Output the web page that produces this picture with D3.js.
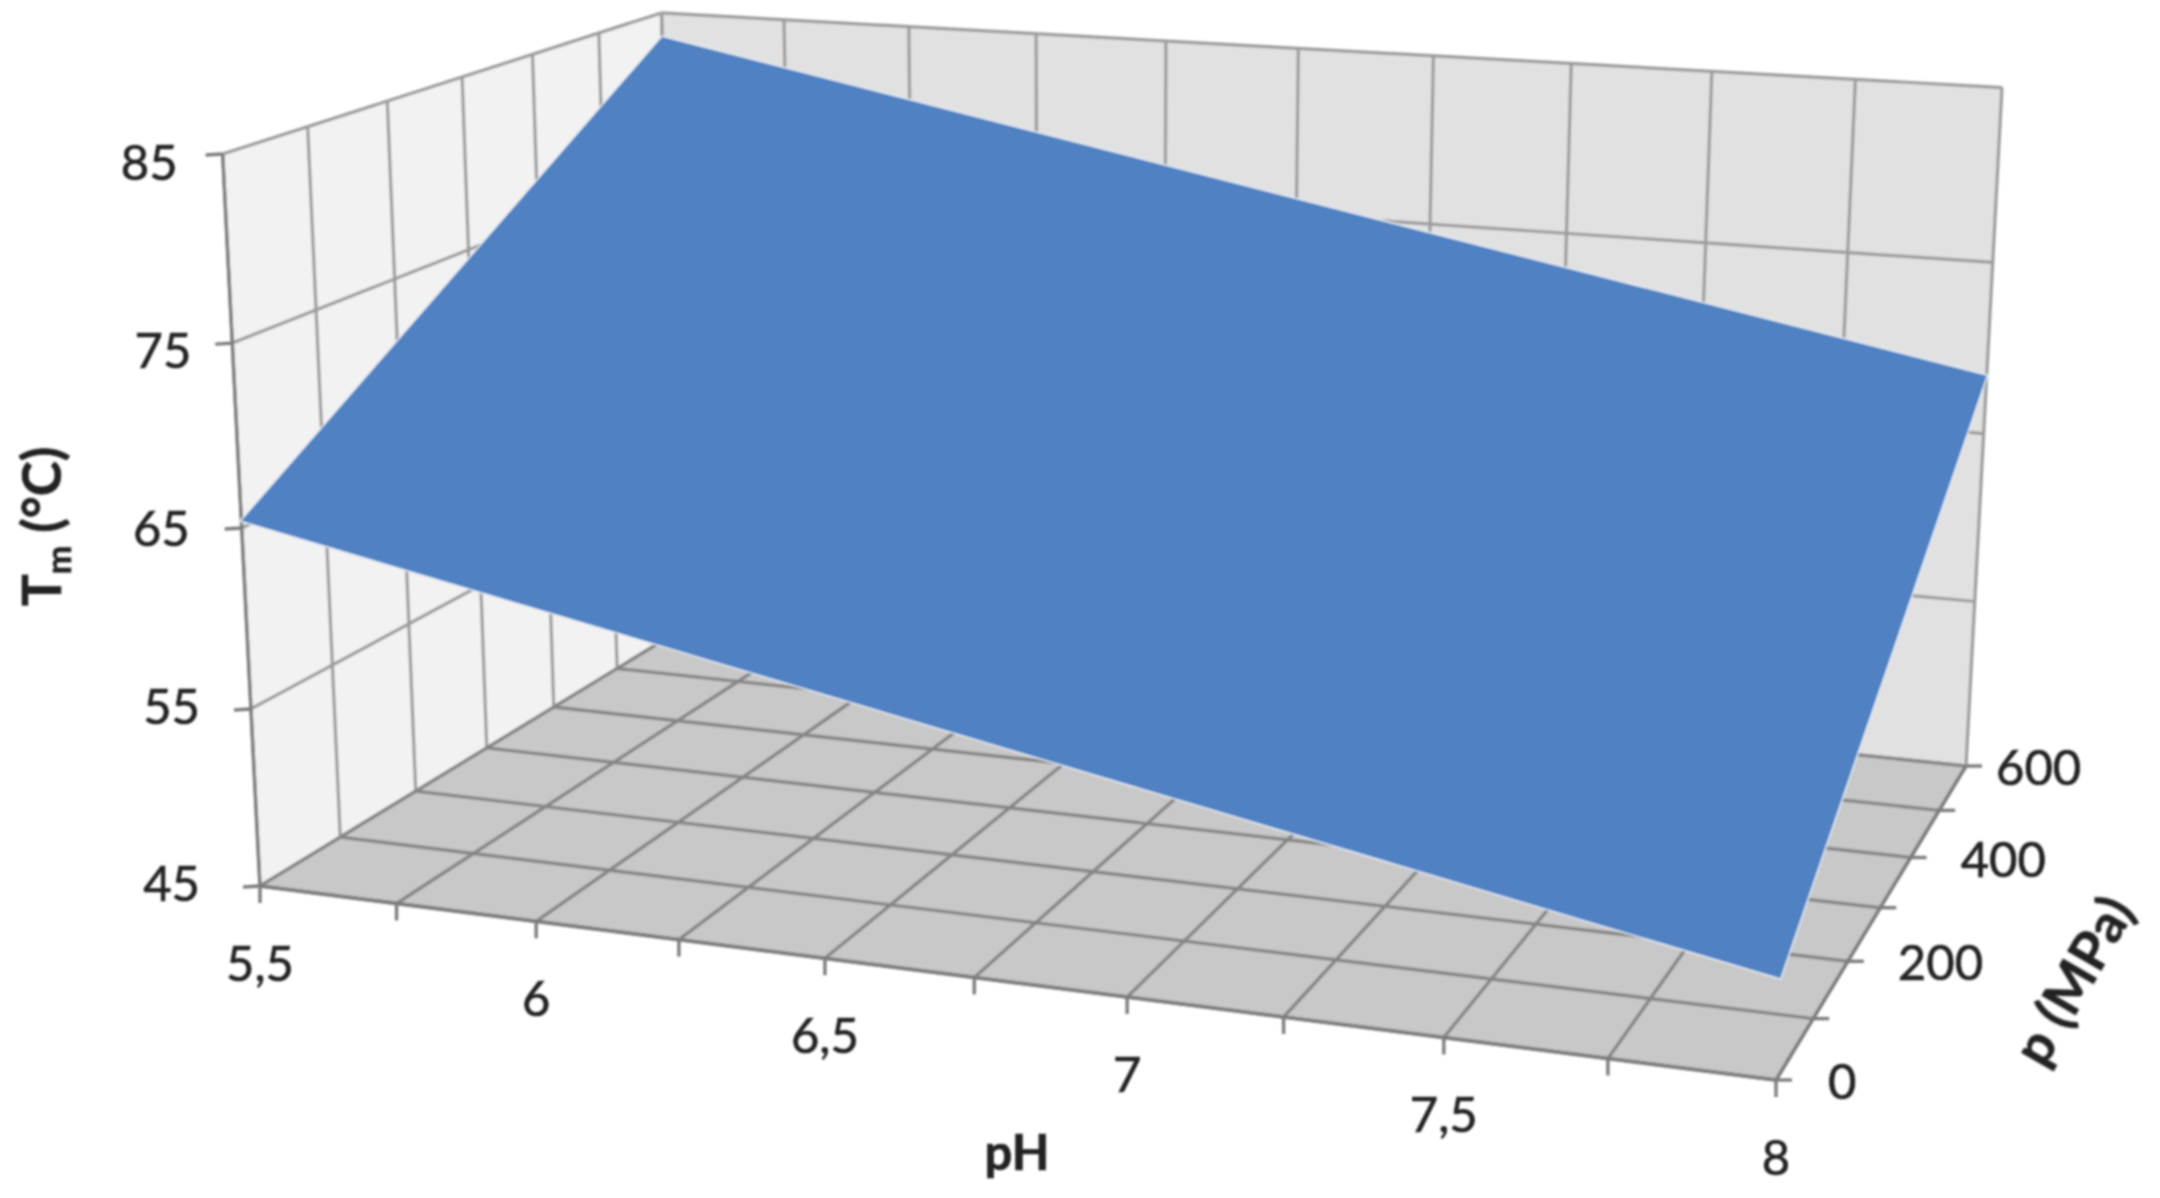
<!DOCTYPE html>
<html lang="en">
	<head>
		<meta charset="utf-8">
		<title>Tm surface over pH and pressure</title>
		<script src="https://d3js.org/d3.v7.min.js"></script>
		<style type="text/css">
			body { margin: 0; background: #fff; }
			text { font-family: Lato, sans-serif; fill: #222; stroke: #222; stroke-width: 0.6px; }
		</style>
	</head>
	<body>
		<script type="text/javascript">
			// Values
			var pHTicks = [5.5, 5.75, 6, 6.25, 6.5, 6.75, 7, 7.25, 7.5, 7.75, 8];
			var pHLabels = ["5,5", "6", "6,5", "7", "7,5", "8"];
			var pressureTicks = [0, 100, 200, 300, 400, 500, 600];
			var pressureLabels = ["0", "200", "400", "600"];
			var tmTicks = [45, 55, 65, 75, 85];

			// Fitted plane: the surface corners
			var surfacePH = [5.5, 8];
			var surfacePressure = [0, 600];
			var tmAtLowPressure = [65.4, 50.2];
			var tmAtHighPressure = [83.5, 68.4];

			var w = 2160;
			var h = 1198;

			var svg = d3.select("body").append("svg").attr("width", w).attr("height", h);
			svg.append("defs").append("filter").attr("id", "soft")
				.attr("filterUnits", "userSpaceOnUse").attr("x", 0).attr("y", 0).attr("width", w).attr("height", h)
				.append("feGaussianBlur").attr("stdDeviation", 1);
			var chart = svg.append("g").attr("filter", "url(#soft)");

			//Create scale functions
			var xScale = d3.scaleLinear().domain([5.5, 8]).range([0, 1]);
			var yScale = d3.scaleLinear().domain([0, 600]).range([0, 1]);
			var zScale = d3.scaleLinear().domain([45, 85]).range([0, 1]);

			// Perspective frame, from where the corners sit on screen
			var floorFrontLeft = [260, 886];
			var floorFrontRight = [1776, 1080];
			var floorBackRight = [1966, 766];
			var floorBackLeft = [677, 632];
			var topFrontLeft = [222.7, 154];
			var verticalVanish = [1093, 17229];

			var H = (function() {
				var x0 = floorFrontLeft[0], y0 = floorFrontLeft[1];
				var x1 = floorFrontRight[0], y1 = floorFrontRight[1];
				var x2 = floorBackRight[0], y2 = floorBackRight[1];
				var x3 = floorBackLeft[0], y3 = floorBackLeft[1];
				var dx1 = x1 - x2, dx2 = x3 - x2, sx = x0 - x1 + x2 - x3;
				var dy1 = y1 - y2, dy2 = y3 - y2, sy = y0 - y1 + y2 - y3;
				var det = dx1 * dy2 - dx2 * dy1;
				var g = (sx * dy2 - dx2 * sy) / det;
				var k = (dx1 * sy - sx * dy1) / det;
				return {
					a: x1 - x0 + g * x1, b: x3 - x0 + k * x3, c: x0,
					d: y1 - y0 + g * y1, e: y3 - y0 + k * y3, f: y0,
					g: g, k: k
				};
			})();
			var lift = (topFrontLeft[1] - floorFrontLeft[1]) / (verticalVanish[1] - topFrontLeft[1]);

			function project(pH, p, tm) {
				var u = xScale(pH), v = yScale(p), t = zScale(tm) * lift;
				var d = H.g * u + H.k * v + 1 + t;
				return [
					(H.a * u + H.b * v + H.c + t * verticalVanish[0]) / d,
					(H.d * u + H.e * v + H.f + t * verticalVanish[1]) / d
				];
			}

			var openLine = d3.line();
			var ringLine = d3.line().curve(d3.curveLinearClosed);

			function polygon(pts, fill) {
				chart.append("path").attr("d", ringLine(pts)).attr("fill", fill);
			}
			function strokeLine(pts, color, width) {
				chart.append("path").attr("d", openLine(pts)).attr("fill", "none")
					.attr("stroke", color).attr("stroke-width", width);
			}

			var pLo = 0, pHi = 600, xLo = 5.5, xHi = 8, tLo = 45, tHi = 85;

			// Walls and floor
			polygon([project(xLo, pLo, tLo), project(xLo, pHi, tLo), project(xLo, pHi, tHi), project(xLo, pLo, tHi)], "#f2f2f2");
			polygon([project(xLo, pHi, tLo), project(xHi, pHi, tLo), project(xHi, pHi, tHi), project(xLo, pHi, tHi)], "#e1e1e1");
			polygon([project(xLo, pLo, tLo), project(xHi, pLo, tLo), project(xHi, pHi, tLo), project(xLo, pHi, tLo)], "#c8c8c8");

			var wallLine = "#9c9c9c", floorLine = "#858585", axisLine = "#7d7d7d";

			tmTicks.forEach(function(t) {
				strokeLine([project(xLo, pLo, t), project(xLo, pHi, t)], wallLine, 3.2);
				strokeLine([project(xLo, pHi, t), project(xHi, pHi, t)], wallLine, 3.2);
			});
			pressureTicks.forEach(function(p) {
				strokeLine([project(xLo, p, tLo), project(xLo, p, tHi)], wallLine, 3.2);
				strokeLine([project(xLo, p, tLo), project(xHi, p, tLo)], floorLine, 3.4);
			});
			pHTicks.forEach(function(x) {
				strokeLine([project(x, pHi, tLo), project(x, pHi, tHi)], wallLine, 3.2);
				strokeLine([project(x, pLo, tLo), project(x, pHi, tLo)], floorLine, 3.4);
			});

			// Axis lines with tick marks
			strokeLine([project(xLo, pLo, tLo), project(xLo, pLo, tHi)], axisLine, 3.4);
			strokeLine([project(xLo, pLo, tLo), project(xHi, pLo, tLo)], axisLine, 3.6);
			strokeLine([project(xHi, pLo, tLo), project(xHi, pHi, tLo)], axisLine, 3.4);

			tmTicks.forEach(function(t) {
				var a = project(xLo, pLo, t);
				strokeLine([a, [a[0] - 17, a[1] + 1]], axisLine, 3.4);
			});
			pHTicks.forEach(function(x) {
				var a = project(x, pLo, tLo);
				strokeLine([a, [a[0], a[1] + 17]], axisLine, 3.4);
			});
			pressureTicks.forEach(function(p) {
				var a = project(xHi, p, tLo);
				strokeLine([a, [a[0] + 16, a[1]]], axisLine, 3.4);
			});

			// Surface, with the pale fringe it has in the picture
			var surface = [
				project(surfacePH[0], surfacePressure[0], tmAtLowPressure[0]),
				project(surfacePH[1], surfacePressure[0], tmAtLowPressure[1]),
				project(surfacePH[1], surfacePressure[1], tmAtHighPressure[1]),
				project(surfacePH[0], surfacePressure[1], tmAtHighPressure[0])
			];
			chart.append("path").attr("d", ringLine(surface)).attr("fill", "#4f81c3")
				.attr("stroke", "#e3ebf3").attr("stroke-width", 3).attr("stroke-linejoin", "round");
			chart.append("path").attr("d", ringLine(surface)).attr("fill", "#4f81c3");

			// Tick labels
			var tmNudgeX = [60, 51, 52, 41, 45];
			var tmNudgeY = [15, 15, 18, 25, 26];
			tmTicks.forEach(function(t, i) {
				var a = project(xLo, pLo, t);
				chart.append("text").attr("x", a[0] - tmNudgeX[i]).attr("y", a[1] + tmNudgeY[i])
					.attr("text-anchor", "end").attr("font-size", 49).text(t);
			});
			pHLabels.forEach(function(label) {
				var a = project(+label.replace(",", "."), pLo, tLo);
				chart.append("text").attr("x", a[0]).attr("y", a[1] + 95)
					.attr("text-anchor", "middle").attr("font-size", 49).text(label);
			});
			var pNudge = [52, 50, 50, 30];
			pressureLabels.forEach(function(label, i) {
				var a = project(xHi, +label, tLo);
				chart.append("text").attr("x", a[0] + pNudge[i]).attr("y", a[1] + 19)
					.attr("font-size", 49).text(label);
			});

			// Axis titles
			chart.append("text").attr("x", 1017).attr("y", 1170).attr("text-anchor", "middle")
				.attr("font-size", 49).attr("font-weight", 700).text("pH");

			var tmTitle = chart.append("text").attr("transform", "translate(61,606) rotate(-90)")
				.attr("font-size", 53).attr("font-weight", 700);
			tmTitle.append("tspan").text("T");
			tmTitle.append("tspan").attr("font-size", 34).attr("dy", 10).text("m");
			tmTitle.append("tspan").attr("dy", -10).text(" (°C)");

			chart.append("text").attr("transform", "translate(2090,990) rotate(-60)")
				.attr("text-anchor", "middle").attr("font-size", 54).attr("font-weight", 700).text("p (MPa)");
		</script>
	</body>
</html>
